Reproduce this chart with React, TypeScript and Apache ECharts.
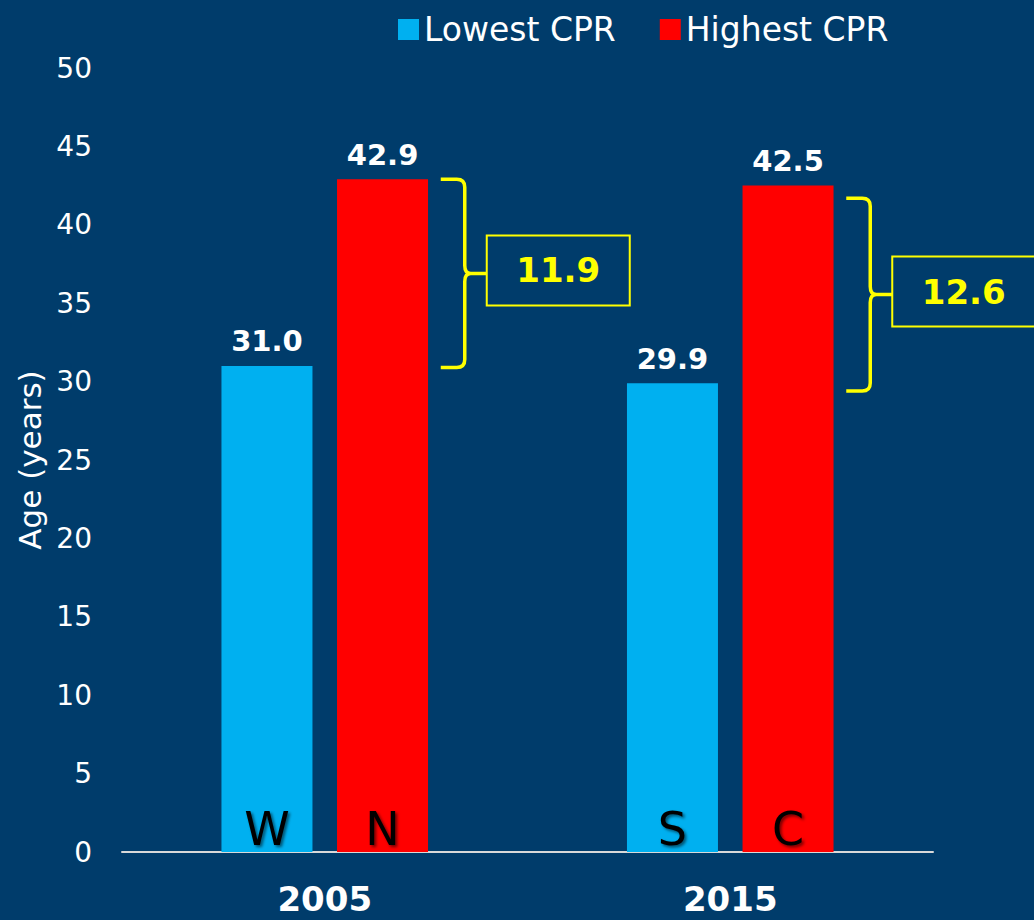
import React, { useEffect, useRef } from 'react';
import * as echarts from 'echarts';

const categories = ['2005', '2015'];
const lowestCPR = [31.0, 29.9];
const highestCPR = [42.9, 42.5];
const lowestRegion = ['W', 'S'];
const highestRegion = ['N', 'C'];
const gapValues = [11.9, 12.6];
const bracketTop = [42.9, 41.7];
const bracketBottom = [30.9, 29.4];

const FONT = '"DejaVu Sans", Verdana, sans-serif';
const BG = '#003C6B';
const YELLOW = '#FFFF00';

export default function App() {
  const ref = useRef<HTMLDivElement>(null);

  useEffect(() => {
    document.body.style.margin = '0';
    document.body.style.background = BG;
    if (!ref.current) return;
    const chart = echarts.init(ref.current, null, { renderer: 'svg' });

    const letterMark = (names: string[]) => ({
      symbol: 'circle',
      symbolSize: 0,
      silent: true,
      label: {
        show: true,
        position: 'top',
        distance: 0,
        formatter: '{b}',
        color: '#000',
        fontSize: 46,
        fontFamily: FONT,
        textShadowColor: 'rgba(0,0,0,0.55)',
        textShadowBlur: 3,
        textShadowOffsetX: 2,
        textShadowOffsetY: 2,
      },
      data: names.map((n, i) => ({ name: n, coord: [i, 0] })),
    });

    const valueLabel = {
      show: true,
      position: 'top',
      distance: 10,
      color: '#fff',
      fontSize: 29,
      fontWeight: 'bold',
      fontFamily: FONT,
      formatter: (p: any) => Number(p.value).toFixed(1),
    };

    chart.setOption({
      animation: false,
      backgroundColor: BG,
      legend: {
        data: ['Lowest CPR', 'Highest CPR'],
        left: 393,
        top: 8,
        icon: 'rect',
        itemWidth: 21,
        itemHeight: 21,
        itemGap: 44,
        selectedMode: false,
        textStyle: { color: '#fff', fontSize: 33, fontFamily: FONT },
      },
      grid: { left: 122, right: 101, top: 68, bottom: 68, containLabel: false },
      xAxis: {
        type: 'category',
        data: categories,
        axisTick: { show: false },
        axisLine: { lineStyle: { color: '#D9D9D9', width: 2 } },
        axisLabel: {
          color: '#fff',
          fontSize: 34,
          fontWeight: 'bold',
          fontFamily: FONT,
          margin: 30,
        },
      },
      yAxis: {
        type: 'value',
        min: 0,
        max: 50,
        interval: 5,
        name: 'Age (years)',
        nameLocation: 'middle',
        nameGap: 76,
        nameTextStyle: { color: '#fff', fontSize: 31, fontFamily: FONT },
        axisLine: { show: false },
        axisTick: { show: false },
        splitLine: { show: false },
        axisLabel: { color: '#fff', fontSize: 28, fontFamily: FONT, margin: 30 },
      },
      series: [
        {
          name: 'Lowest CPR',
          type: 'bar',
          data: lowestCPR,
          barWidth: 91,
          barGap: '27%',
          itemStyle: { color: '#00B0F0' },
          label: valueLabel,
          markPoint: letterMark(lowestRegion),
        },
        {
          name: 'Highest CPR',
          type: 'bar',
          data: highestCPR,
          barWidth: 91,
          barGap: '27%',
          itemStyle: { color: '#FF0000' },
          label: valueLabel,
          markPoint: letterMark(highestRegion),
        },
        {
          name: 'gap',
          type: 'custom',
          silent: true,
          clip: false,
          z: 10,
          encode: { x: 0, y: [1, 2] },
          data: categories.map((_, i) => [i, bracketBottom[i], bracketTop[i], gapValues[i]]),
          renderItem: (params: any, api: any) => {
            const top = api.coord([api.value(0), api.value(2)]);
            const bot = api.coord([api.value(0), api.value(1)]);
            const cx = top[0];
            const t = top[1];
            const b = bot[1];
            const m = (t + b) / 2;
            const x0 = cx + 116;
            const xs = cx + 140;
            const xb = cx + 162;
            const bw = 143;
            const bh = 70;
            const r = 8;
            const d =
              `M ${x0} ${t} L ${xs - r} ${t} Q ${xs} ${t} ${xs} ${t + r} ` +
              `L ${xs} ${m - r} Q ${xs} ${m} ${xs + 6} ${m} L ${xb} ${m} ` +
              `M ${xs + 6} ${m} Q ${xs} ${m} ${xs} ${m + r} ` +
              `L ${xs} ${b - r} Q ${xs} ${b} ${xs - r} ${b} L ${x0} ${b}`;
            return {
              type: 'group',
              children: [
                {
                  type: 'path',
                  shape: { pathData: d },
                  style: { stroke: YELLOW, lineWidth: 3.5, fill: 'none' },
                },
                {
                  type: 'rect',
                  shape: { x: xb, y: m - bh / 2 - 3, width: bw, height: bh },
                  style: { stroke: YELLOW, lineWidth: 2, fill: 'none' },
                },
                {
                  type: 'text',
                  style: {
                    text: Number(api.value(3)).toFixed(1),
                    x: xb + bw / 2,
                    y: m - 3,
                    align: 'center',
                    verticalAlign: 'middle',
                    fill: YELLOW,
                    fontSize: 34,
                    fontWeight: 'bold',
                    fontFamily: FONT,
                  },
                },
              ],
            };
          },
        },
      ],
    });

    return () => chart.dispose();
  }, []);

  return <div ref={ref} style={{ width: 1034, height: 920, background: BG }} />;
}
